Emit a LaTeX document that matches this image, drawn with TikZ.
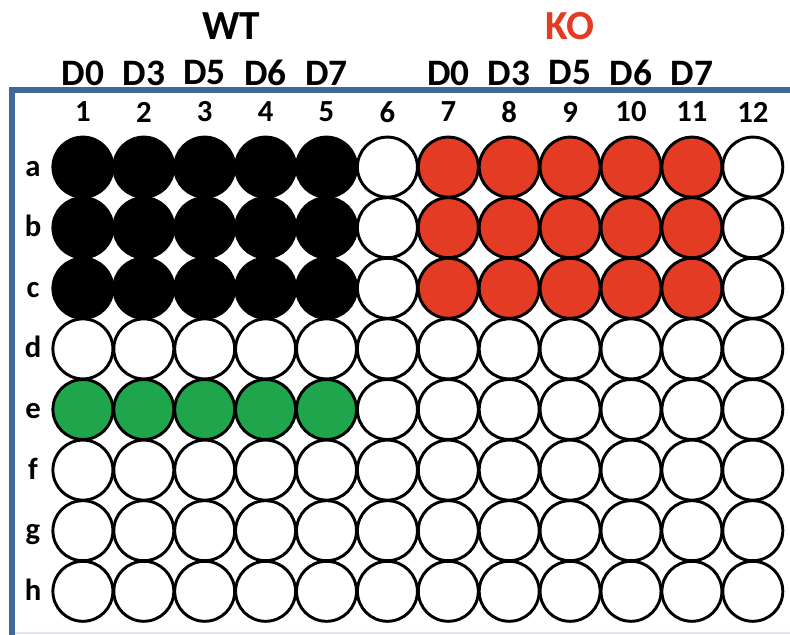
\documentclass[tikz,border=0pt]{standalone}
\usepackage{fontspec}
\setmainfont{Carlito}
\usetikzlibrary{positioning}
\definecolor{PlateBlue}{HTML}{41689E}
\definecolor{PlateEdge}{HTML}{DCE7F2}
\definecolor{WellRed}{HTML}{E43B24}
\definecolor{WellGreen}{HTML}{1FA54B}

\begin{document}
\begin{tikzpicture}[x=0.75pt,y=-0.75pt,
    well/.style={circle,draw=black,line width=2.2pt,fill=white,minimum size=45pt,inner sep=0pt},
    wt/.style={well,fill=black},
    ko/.style={well,fill=WellRed},
    ctrl/.style={well,fill=WellGreen},
    lab/.style={font=\bfseries\fontsize{23}{23}\selectfont,inner sep=0pt},
    rowlab/.style={lab,text height=13.5pt,text depth=0pt},
    day/.style={font=\bfseries\fontsize{28}{28}\selectfont,inner sep=0pt},
    group/.style={font=\bfseries\fontsize{31}{31}\selectfont,inner sep=0pt}]
  \useasboundingbox (0,0) rectangle (790,635);
  \fill[white] (0,0) rectangle (790,635);
  % plate frame
  \draw[PlateEdge,line width=1.5pt] (12,633) -- (790,633);
  \draw[PlateBlue,line width=3.8pt] (12,635) -- (12,90) -- (790,90);
  % column numbers and row letters
  \foreach \c in {1,...,12}
    \node[lab] (col\c) at ({22+60.9*\c},112) {\c};
  \foreach \r [count=\i] in {a,b,c,d,e,f,g,h}
    \node[rowlab] (row\r) at (33,{106.5+60.6*\i}) {\r};
  % group and day labels
  \coordinate (dayrow) at (0,73);
  \node[group] (wt) at (231,26) {WT};
  \node[group,text=WellRed] (ko) at (col9 |- wt) {KO};
  \foreach \d [count=\i] in {0,3,5,6,7} {
    \pgfmathtruncatemacro\k{\i+6}
    \node[day] (wtD\d) at (col\i |- dayrow) {D\d};
    \node[day] (koD\d) at (col\k |- dayrow) {D\d};
  }
  % wells
  \foreach \r in {a,b,c} {
    \foreach \c in {1,...,5}
      \node[wt] (\r\c) at (col\c |- row\r) {};
    \foreach \c in {7,...,11}
      \node[ko] (\r\c) at (col\c |- row\r) {};
    \foreach \c in {6,12}
      \node[well] (\r\c) at (col\c |- row\r) {};
  }
  \foreach \c in {1,...,5}
    \node[ctrl] (e\c) at (col\c |- rowe) {};
  \foreach \c in {6,...,12}
    \node[well] (e\c) at (col\c |- rowe) {};
  \foreach \r in {d,f,g,h}
    \foreach \c in {1,...,12}
      \node[well] (\r\c) at (col\c |- row\r) {};
\end{tikzpicture}
\end{document}
